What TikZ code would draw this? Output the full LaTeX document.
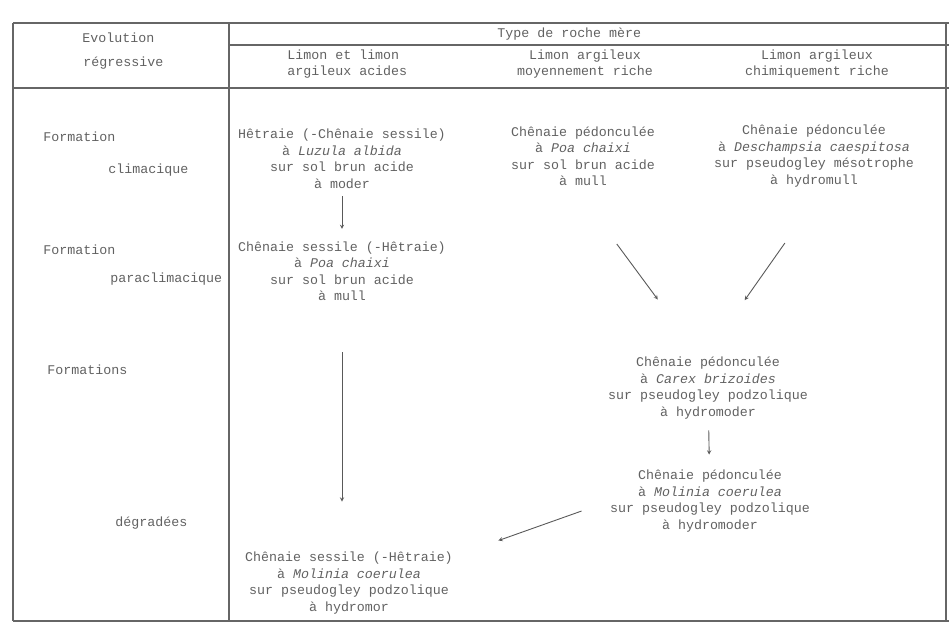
\documentclass[tikz,border=0pt]{standalone}
\usepackage{fontspec}
\setmainfont{Liberation Mono}
\usepackage{color}
\usepackage{tikz}

\begin{document}
\begin{tikzpicture}[->,>=stealth,x=1pt,y=-1pt,line width=0.9pt,draw=black!65,
  every node/.style={text=black!62,align=center,inner sep=0pt,
    font=\fontsize{13.3}{16.5}\selectfont},
  lbl/.style={anchor=west}]

  \useasboundingbox (0,0) rectangle (949,626);

  % table
  \draw[-,black!60,line width=1.1pt] (13,23) -- (949,23) (13,23) -- (13,621)
    (229,23) -- (229,621) (229,45) -- (949,45) (13,88) -- (949,88)
    (13,621) -- (949,621) (946,23) -- (946,621);

  % header
  \node[lbl] (evo)  at (82,38)  {Evolution};
  \node[lbl] (regr) at (83,63)  {régressive};
  \node[lbl] (type) at (497,34) {Type de roche mère};
  \node[lbl,align=left] (hd1) at (287,64) {Limon et limon\\argileux acides};
  \node (hd2) at (585,64) {Limon argileux\\moyennement riche};
  \node (hd3) at (817,64) {Limon argileux\\chimiquement riche};

  % left column
  \node[lbl] (f1) at (43,137)  {Formation};
  \node[lbl] (c1) at (108,170) {climacique};
  \node[lbl] (f2) at (43,250)  {Formation};
  \node[lbl] (c2) at (110,279) {paraclimacique};
  \node[lbl] (f3) at (47,370)  {Formations};
  \node[lbl] (c3) at (115,523) {dégradées};

  % groupements
  \node (hetre) at (342,159) {Hêtraie (-Chênaie sessile)\\à \textit{Luzula albida}\\sur sol brun acide\\à moder};
  \node (ped1)  at (583,156) {Chênaie pédonculée\\à \textit{Poa chaixi}\\sur sol brun acide\\à mull};
  \node (ped2)  at (814,156) {Chênaie pédonculée\\à \textit{Deschampsia caespitosa}\\sur pseudogley mésotrophe\\à hydromull};
  \node (sess1) at (342,271) {Chênaie sessile (-Hêtraie)\\à \textit{Poa chaixi}\\sur sol brun acide\\à mull};
  \node (carex) at (708,388) {Chênaie pédonculée\\à \textit{Carex brizoides}\\sur pseudogley podzolique\\à hydromoder};
  \node (moli)  at (710,501) {Chênaie pédonculée\\à \textit{Molinia coerulea}\\sur pseudogley podzolique\\à hydromoder};
  \node (sess2) at (349,583) {Chênaie sessile (-Hêtraie)\\à \textit{Molinia coerulea}\\sur pseudogley podzolique\\à hydromor};

  \path
    (hetre) edge[shorten <=7pt,shorten >=12pt] (sess1)
    (sess1) edge[shorten <=51pt,shorten >=50pt] (sess1 |- sess2.north)
    ([xshift=-9pt]ped1.south) edge[shorten <=72pt,shorten >=71pt] ([xshift=-8pt]carex.north)
    ([xshift=10pt]ped2.south) edge[shorten <=68pt,shorten >=69pt] ([xshift=-3pt]carex.north)
    (carex) edge[shorten <=11pt,shorten >=15pt] (moli)
    (moli.west) edge[shorten <=30pt,shorten >=48pt] ([yshift=-5pt]sess2.north east);

\end{tikzpicture}
\end{document}
